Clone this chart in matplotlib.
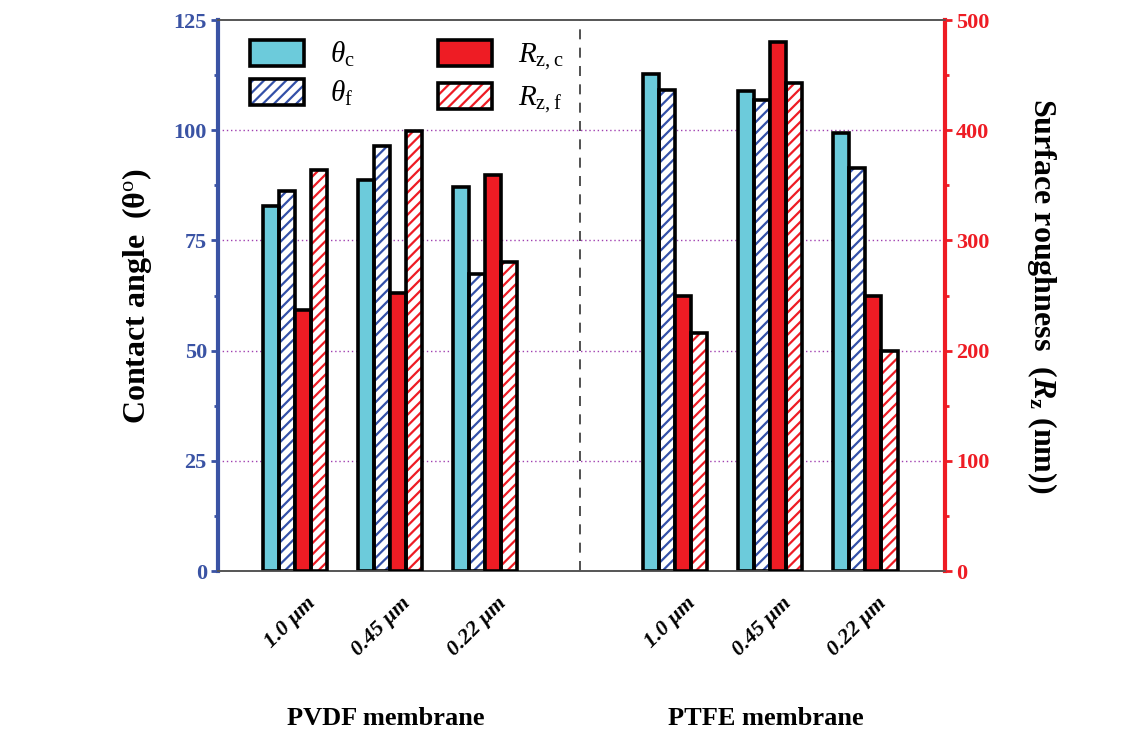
import numpy as np
import matplotlib
matplotlib.use("Agg")
import matplotlib.pyplot as plt
from matplotlib.patches import Patch

plt.rcParams['font.family'] = ['Liberation Serif', 'DejaVu Serif']
plt.rcParams['mathtext.fontset'] = 'custom'
plt.rcParams['mathtext.rm'] = 'Liberation Serif'
plt.rcParams['mathtext.it'] = 'Liberation Serif:italic'
plt.rcParams['mathtext.bf'] = 'Liberation Serif:bold'
plt.rcParams['mathtext.bfit'] = 'Liberation Serif:bold:italic'
plt.rcParams['hatch.linewidth'] = 1.6

# data
groups = ['1.0 μm', '0.45 μm', '0.22 μm', '1.0 μm', '0.45 μm', '0.22 μm']
positions = [1, 2, 3, 5, 6, 7]
membranes = ['PVDF membrane', 'PTFE membrane']
membrane_pos = [2, 6]
theta_c = [82.8, 88.7, 87.2, 112.8, 109.0, 99.3]
theta_f = [86.2, 96.4, 67.4, 109.1, 106.9, 91.4]
rz_c = [237, 252, 359, 250, 480, 250]
rz_f = [364, 399, 280, 216, 443, 200]
grid_levels = [25, 50, 75, 100]

cyan = '#6ccbdb'
red = '#ee1c24'
blue = '#3350a8'
axis_blue = '#3a53a4'

fig = plt.figure(figsize=(11.43, 7.3), dpi=100)
ax = fig.add_axes([0.1907, 0.2178, 0.6361, 0.7548])
ax2 = ax.twinx()

w = 0.17
x = np.array(positions, dtype=float)

for g in grid_levels:
    ax.axhline(g, color='#a040b0', ls=(0, (1, 2)), lw=1.0, zorder=0)
ax.axvline(4, color='#333333', ls=(0, (6, 5)), lw=1.2, zorder=0)


def hatched(axis, xs, vals, color):
    axis.bar(xs, vals, w, color='white', edgecolor=color, hatch='///', lw=0, zorder=2)
    axis.bar(xs, vals, w, fill=False, edgecolor='black', lw=2.6, zorder=3)


ax.bar(x - 1.5 * w, theta_c, w, color=cyan, edgecolor='black', lw=2.6, zorder=3)
hatched(ax, x - 0.5 * w, theta_f, blue)
ax2.bar(x + 0.5 * w, rz_c, w, color=red, edgecolor='black', lw=2.6, zorder=3)
hatched(ax2, x + 1.5 * w, rz_f, red)

ax.set_xlim(0.19, 7.84)
ax.set_ylim(0, 125)
ax2.set_ylim(0, 500)

ax.set_yticks([0, 25, 50, 75, 100, 125])
ax.set_yticks(np.arange(12.5, 125, 25), minor=True)
ax2.set_yticks([0, 100, 200, 300, 400, 500])
ax2.set_yticks(np.arange(50, 500, 100), minor=True)
ax.set_xticks([])
ax2.set_xticks([])

ax.tick_params(axis='y', which='major', colors=axis_blue, width=2, length=5, labelsize=16, pad=3)
ax.tick_params(axis='y', which='minor', colors=axis_blue, width=2, length=3)
ax2.tick_params(axis='y', which='major', colors=red, width=2, length=5, labelsize=16, pad=3)
ax2.tick_params(axis='y', which='minor', colors=red, width=2, length=3)
for lab in ax.get_yticklabels():
    lab.set_fontweight('bold')
for lab in ax2.get_yticklabels():
    lab.set_fontweight('bold')

for a in (ax, ax2):
    a.spines['top'].set_color('#555555')
    a.spines['bottom'].set_color('#555555')
    a.spines['top'].set_linewidth(1.2)
    a.spines['bottom'].set_linewidth(1.2)
ax.spines['left'].set_color(axis_blue)
ax.spines['left'].set_linewidth(3)
ax2.spines['left'].set_visible(False)
ax2.spines['right'].set_color(red)
ax2.spines['right'].set_linewidth(3)
ax.spines['right'].set_visible(False)

ax.set_ylabel('Contact angle  (θ$^\\mathrm{o}$)', fontsize=23, fontweight='bold', labelpad=14)
ax2.set_ylabel('Surface roughness  ($\\mathbfit{R}_\\mathbf{z}$ (nm))', fontsize=23,
               fontweight='bold', rotation=270, labelpad=50)

for p, lab in zip(positions, groups):
    ax.annotate(lab, xy=(p, 0), xycoords=('data', 'axes fraction'), xytext=(18, -16),
                textcoords='offset points', rotation=45, ha='right', va='top',
                fontsize=16, fontweight='bold', fontstyle='italic')

for p, lab in zip(membrane_pos, membranes):
    ax.annotate(lab, xy=(p, 0), xycoords=('data', 'axes fraction'), xytext=(-3, -106),
                textcoords='offset points', ha='center', va='center',
                fontsize=19, fontweight='bold')

h_tc = Patch(facecolor=cyan, edgecolor='black', lw=2.6)
h_tf = (Patch(facecolor='white', edgecolor=blue, hatch='///', lw=0),
        Patch(fill=False, edgecolor='black', lw=2.6))
h_rc = Patch(facecolor=red, edgecolor='black', lw=2.6)
h_rf = (Patch(facecolor='white', edgecolor=red, hatch='///', lw=0),
        Patch(fill=False, edgecolor='black', lw=2.6))
ax2.legend([h_tc, h_tf, h_rc, h_rf],
           ['$\\theta_\\mathrm{c}$', '$\\theta_\\mathrm{f}$',
            '$R_\\mathrm{z,c}$', '$R_\\mathrm{z,f}$'],
           ncol=2, loc='upper left', bbox_to_anchor=(0.008, 1.012), frameon=False,
           fontsize=21, handlelength=1.85, handleheight=1.0, columnspacing=2.85,
           labelspacing=0.35, handletextpad=0.9)

fig.savefig('out.png', dpi=100)
